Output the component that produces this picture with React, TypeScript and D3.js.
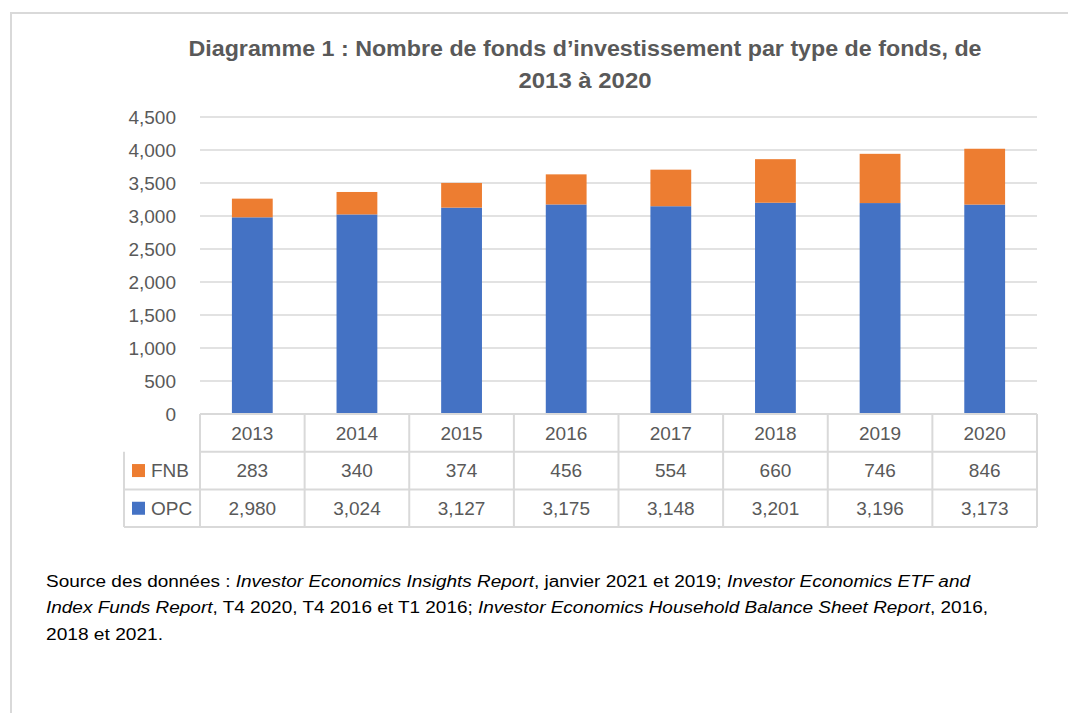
import * as d3 from 'd3';
import React from 'react';

const years = ['2013', '2014', '2015', '2016', '2017', '2018', '2019', '2020'];
const opcValues = [2980, 3024, 3127, 3175, 3148, 3201, 3196, 3173];
const fnbValues = [283, 340, 374, 456, 554, 660, 746, 846];
const yTicks = [0, 500, 1000, 1500, 2000, 2500, 3000, 3500, 4000, 4500];
const seriesNames = ['FNB', 'OPC'];

const titleLines = [
  'Diagramme 1 : Nombre de fonds d\u2019investissement par type de fonds, de',
  '2013 à 2020',
];
const titleWidths = [793, 133];

const W = 1068;
const H = 713;
const plotLeft = 200;
const plotRight = 1037;
const plotTop = 117;
const plotBottom = 414;
const rowH = 37.7;
const legendLeft = 124;

const BLUE = '#4472C4';
const ORANGE = '#ED7D31';
const GRID = '#D9D9D9';
const TEXT = '#595959';
const FONT = '"Liberation Sans", Arial, sans-serif';

const fmt = d3.format(',');

export default function App() {
  const x = d3.scaleBand().domain(years).range([plotLeft, plotRight]).paddingInner(0.61).paddingOuter(0.305);
  const y = d3.scaleLinear().domain([0, 4500]).range([plotBottom, plotTop]);
  const step = x.step();
  const colLeft = (yr: string) => (x(yr) as number) - (step - x.bandwidth()) / 2;

  const stacked = years.map((yr, i) => ({ yr, opc: opcValues[i], fnb: fnbValues[i] }));
  const rows = [
    { name: seriesNames[0], color: ORANGE, values: fnbValues },
    { name: seriesNames[1], color: BLUE, values: opcValues },
  ];
  const tableBottom = plotBottom + rowH * 3;

  return (
    <svg width={W} height={H} style={{ position: 'absolute', left: 0, top: 0, background: '#fff' }}>
      {/* chart frame */}
      <rect x={11} y={13} width={W + 20} height={H + 20} fill="none" stroke={GRID} strokeWidth={2} />

      {titleLines.map((t, i) => (
        <text key={i} x={585} y={56 + i * 32} textAnchor="middle" fontFamily={FONT} fontWeight="bold"
          fontSize={21.5} fill={TEXT} textLength={titleWidths[i]} lengthAdjust="spacingAndGlyphs">{t}</text>
      ))}

      {/* gridlines + y ticks */}
      {yTicks.map(t => (
        <g key={t}>
          {t > 0 && <line x1={plotLeft} x2={plotRight} y1={y(t)} y2={y(t)} stroke={GRID} strokeWidth={1.5} />}
          <text x={176} y={y(t)} dy="0.35em" textAnchor="end" fontFamily={FONT} fontSize={19} fill={TEXT}>{fmt(t)}</text>
        </g>
      ))}

      {/* bars */}
      {stacked.map(d => (
        <g key={d.yr}>
          <rect x={x(d.yr)} width={x.bandwidth()} y={y(d.opc)} height={y(0) - y(d.opc)} fill={BLUE} />
          <rect x={x(d.yr)} width={x.bandwidth()} y={y(d.opc + d.fnb)} height={y(d.opc) - y(d.opc + d.fnb)} fill={ORANGE} />
        </g>
      ))}

      {/* data table */}
      <g stroke={GRID} strokeWidth={2} fill="none">
        <line x1={plotLeft} x2={plotRight} y1={plotBottom} y2={plotBottom} />
        {[1, 2, 3].map(r => (
          <line key={r} x1={r === 1 ? plotLeft : legendLeft} x2={plotRight} y1={plotBottom + rowH * r} y2={plotBottom + rowH * r} />
        ))}
        <line x1={legendLeft} x2={legendLeft} y1={plotBottom + rowH} y2={tableBottom} />
        {years.map(yr => (
          <line key={yr} x1={colLeft(yr)} x2={colLeft(yr)} y1={plotBottom} y2={tableBottom} />
        ))}
        <line x1={plotRight} x2={plotRight} y1={plotBottom} y2={tableBottom} />
      </g>
      {years.map(yr => (
        <text key={yr} x={(x(yr) as number) + x.bandwidth() / 2} y={plotBottom + rowH / 2} dy="0.35em"
          textAnchor="middle" fontFamily={FONT} fontSize={19} fill={TEXT}>{yr}</text>
      ))}
      {rows.map((row, r) => (
        <g key={row.name}>
          <rect x={132} y={plotBottom + rowH * (r + 1) + rowH / 2 - 6.5} width={13} height={13} fill={row.color} />
          <text x={151} y={plotBottom + rowH * (r + 1.5)} dy="0.35em" fontFamily={FONT} fontSize={19} fill={TEXT}>{row.name}</text>
          {row.values.map((v, i) => (
            <text key={i} x={(x(years[i]) as number) + x.bandwidth() / 2} y={plotBottom + rowH * (r + 1.5)} dy="0.35em"
              textAnchor="middle" fontFamily={FONT} fontSize={19} fill={TEXT}>{fmt(v)}</text>
          ))}
        </g>
      ))}

      {/* source note */}
      <g fontFamily={FONT} fontSize={16} fill="#000">
        <text x={46} y={587} textLength={924} lengthAdjust="spacingAndGlyphs">
          Source des données : <tspan fontStyle="italic">Investor Economics Insights Report</tspan>, janvier 2021 et 2019; <tspan fontStyle="italic">Investor Economics ETF and</tspan>
        </text>
        <text x={46} y={613} textLength={942} lengthAdjust="spacingAndGlyphs">
          <tspan fontStyle="italic">Index Funds Report</tspan>, T4 2020, T4 2016 et T1 2016; <tspan fontStyle="italic">Investor Economics Household Balance Sheet Report</tspan>, 2016,
        </text>
        <text x={46} y={640} textLength={117} lengthAdjust="spacingAndGlyphs">2018 et 2021.</text>
      </g>
    </svg>
  );
}
